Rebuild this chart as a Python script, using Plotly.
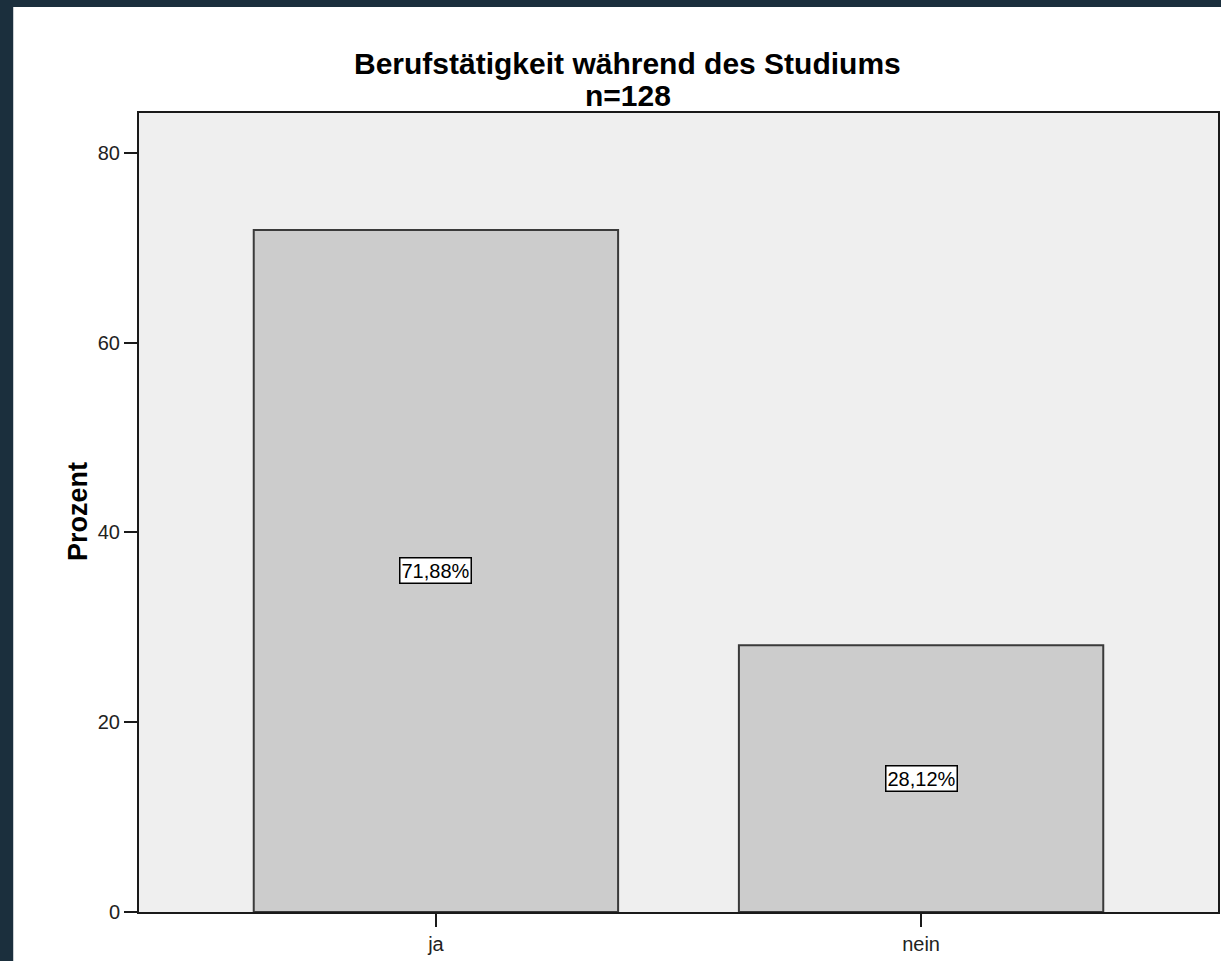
import plotly.graph_objects as go

categories = ["ja", "nein"]
percent = [71.88, 28.12]
title_lines = ["Berufstätigkeit während des Studiums", "n=128"]
y_ticks = [0, 20, 40, 60, 80]

W, H = 1221, 961
L, R, T, B = 139, 1, 113, 49
pw, ph = W - L - R, H - T - B
FONT = "Liberation Sans, Arial, sans-serif"
DARK = "#1b2f3d"


def px_x(p):
    return (p - L) / pw


def px_y(p):
    return 1 + (T - p) / ph


fig = go.Figure()
fig.add_trace(go.Bar(
    x=categories, y=percent, width=0.751,
    marker=dict(color="#cccccc", line=dict(color="#3a3a3a", width=2)),
    showlegend=False, hoverinfo="skip",
))

for c, v in zip(categories, percent):
    fig.add_annotation(
        x=c, y=v / 2, xref="x", yref="y",
        text=f"{v:.2f}%".replace(".", ","), showarrow=False,
        font=dict(family=FONT, size=20, color="black"),
        bgcolor="white", bordercolor="black", borderwidth=1.5, borderpad=1,
    )

# title lines
for txt, ymid in zip(title_lines, [63, 95]):
    fig.add_annotation(
        x=px_x(628.5), y=px_y(ymid), xref="paper", yref="paper",
        xanchor="center", yanchor="middle", showarrow=False,
        text=f"<b>{txt}</b>", font=dict(family=FONT, size=30, color="black"),
    )

# y axis title
fig.add_annotation(
    x=px_x(78), y=px_y(512), xref="paper", yref="paper",
    xanchor="center", yanchor="middle", showarrow=False, textangle=-90,
    text="<b>Prozent</b>", font=dict(family=FONT, size=27, color="black"),
)

# dark surroundings (screenshot background)
fig.add_shape(type="rect", xref="paper", yref="paper", layer="above",
              x0=px_x(-5), x1=px_x(13), y0=px_y(H + 5), y1=px_y(-5),
              fillcolor=DARK, line=dict(width=0))
fig.add_shape(type="rect", xref="paper", yref="paper", layer="above",
              x0=px_x(-5), x1=px_x(W + 5), y0=px_y(7), y1=px_y(-5),
              fillcolor=DARK, line=dict(width=0))

fig.update_layout(
    width=W, height=H,
    margin=dict(l=L, r=R, t=T, b=B, pad=0),
    paper_bgcolor="white", plot_bgcolor="#efefef",
    font=dict(family=FONT, size=20, color="#222222"),
    bargap=0.25,
)
fig.update_xaxes(
    range=[-0.612, 1.612], showgrid=False, zeroline=False,
    showline=True, linecolor="#1a1a1a", linewidth=2, mirror=True,
    ticks="outside", ticklen=13, tickwidth=2, tickcolor="#1a1a1a",
    tickfont=dict(family=FONT, size=20, color="#222222"),
)
fig.update_yaxes(
    range=[0, 84.2], tickvals=y_ticks, showgrid=False, zeroline=False,
    showline=True, linecolor="#1a1a1a", linewidth=2, mirror=True,
    ticks="outside", ticklen=13, tickwidth=2, tickcolor="#1a1a1a",
    tickfont=dict(family=FONT, size=20, color="#222222"),
)

fig.write_html(
    "out.html",
    config={"displayModeBar": False},
    post_script="document.body.style.margin='0';document.body.style.background='%s';" % DARK,
)
